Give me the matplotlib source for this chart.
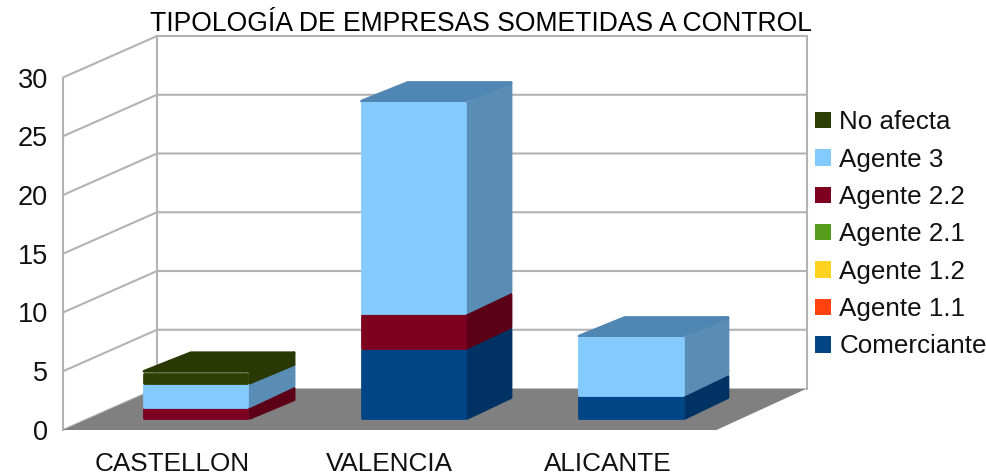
import matplotlib
matplotlib.use("Agg")
import matplotlib.pyplot as plt
from matplotlib.patches import Polygon, Patch

categories = ["CASTELLON", "VALENCIA", "ALICANTE"]
comerciante = [0, 6, 2]
agente_11 = [0, 0, 0]
agente_12 = [0, 0, 0]
agente_21 = [0, 0, 0]
agente_22 = [1, 3, 0]
agente_3 = [2, 18, 5]
no_afecta = [1, 0, 0]
y_ticks = [0, 5, 10, 15, 20, 25, 30]

series = [
    ("Comerciante", comerciante, "#004586", "#003263", "#003263"),
    ("Agente 1.1", agente_11, "#ff420e", "#b02e0a", "#b02e0a"),
    ("Agente 1.2", agente_12, "#ffd320", "#b09216", "#b09216"),
    ("Agente 2.1", agente_21, "#579d1c", "#3c6c13", "#3c6c13"),
    ("Agente 2.2", agente_22, "#7e0021", "#5c0018", "#5c0018"),
    ("Agente 3", agente_3, "#83caff", "#5a8db5", "#4f86b3"),
    ("No afecta", no_afecta, "#2f3f04", "#2a3903", "#2a3903"),
]

W, H = 987, 474
fig = plt.figure(figsize=(W / 100, H / 100), dpi=100)
plt.rcParams["font.family"] = "Liberation Sans"
L, R, B, T = 63, 716.5, 430, 77.5
ax = fig.add_axes([L / W, 1 - B / H, (R - L) / W, (B - T) / H])
ax.set_xlim(0, 3)
ax.set_ylim(0, 30)
for s in ax.spines.values():
    s.set_visible(False)
ax.patch.set_visible(False)

PX = 3 / (R - L)      # data units per pixel, x
PY = 30 / (B - T)     # data units per pixel, y
DX = 94 * PX
DY = 41.5 * PY
BACK_SCALE = 650 / (R - L)


def P(x, d, y):
    return (x * (1 - d * (1 - BACK_SCALE)) + d * DX, y + d * DY)


def inset(pts, px=1.1):
    cx = sum(p[0] for p in pts) / len(pts)
    cy = sum(p[1] for p in pts) / len(pts)
    return [(p[0] + (px * PX if p[0] < cx else -px * PX),
             p[1] + (px * PY if p[1] < cy else -px * PY)) for p in pts]


GRID = "#b3b3b3"
ax.add_patch(Polygon([P(0, 0, 0), P(3, 0, 0), P(3, 1, 0), P(0, 1, 0)],
                     closed=True, fc="#808080", ec="none", zorder=1, clip_on=False))
for v in y_ticks:
    xs, ys = zip(P(0, 0, v), P(0, 1, v), P(3, 1, v))
    if v == 0:
        xs, ys = xs[:2], ys[:2]
    ax.plot(xs, ys, color=GRID, lw=1.5, zorder=1.5 if v else 0.5, clip_on=False,
            solid_capstyle="butt")
for x, d in ((0, 0), (0, 1), (3, 1)):
    xs, ys = zip(P(x, d, 0), P(x, d, 30))
    ax.plot(xs, ys, color=GRID, lw=1.5, zorder=0.8, clip_on=False)

BAR_W = 0.486
D0, D1 = 0.255, 0.755
z = 3
for i in range(len(categories)):
    x0 = i + 0.5 - BAR_W / 2
    x1 = x0 + BAR_W
    total = sum(s[1][i] for s in series)
    base = 0
    for name, vals, front, side, top in series:
        v = vals[i]
        if v == 0:
            continue
        y0, y1 = base, base + v
        faces = [([P(x1, D0, y0), P(x1, D1, y0), P(x1, D1, y1), P(x1, D0, y1)], side)]
        if y1 == total:
            faces.append(([P(x0, D0, y1), P(x1, D0, y1), P(x1, D1, y1), P(x0, D1, y1)], top))
        faces.append(([P(x0, D0, y0), P(x1, D0, y0), P(x1, D0, y1), P(x0, D0, y1)], front))
        for pts, col in faces:
            ax.add_patch(Polygon(inset(pts), closed=True, fc=col, ec=col, lw=2.0,
                                 joinstyle="round", zorder=z, clip_on=False))
            z += 1
        base = y1

ax.set_xticks([i + 0.5 for i in range(len(categories))], categories)
ax.set_yticks(y_ticks, [str(v) for v in y_ticks])
ax.tick_params(axis="x", length=0, labelsize=18.8, colors="#111111", pad=15.5)
ax.tick_params(axis="y", length=0, labelsize=19.5, colors="#111111", pad=11)

fig.text(481 / W, 1 - 24 / H, "TIPOLOGÍA DE EMPRESAS SOMETIDAS A CONTROL",
         ha="center", va="center", fontsize=19.1, color="#000000")

handles = [Patch(fc=c, ec="none", label=n) for n, _, c, _, _ in reversed(series)]
fig.legend(handles=handles, loc="upper left",
           bbox_to_anchor=(810 / W, 1 - 105 / H), bbox_transform=fig.transFigure,
           frameon=False, fontsize=18.7, labelspacing=0.515, handlelength=0.6,
           handleheight=0.6, handletextpad=0.33, borderpad=0.2, borderaxespad=0,
           labelcolor="#111111")

fig.savefig("out.png", dpi=100)
